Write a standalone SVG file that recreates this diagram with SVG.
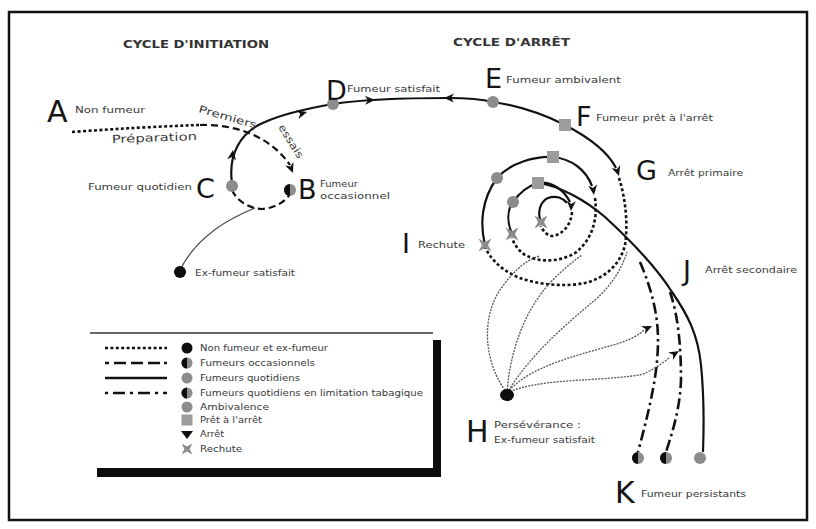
<svg xmlns="http://www.w3.org/2000/svg" width="816" height="529" viewBox="0 0 816 529">
<style>
.big{font-family:"DejaVu Sans",sans-serif;font-size:27px;fill:#151515}
.lab{font-family:"DejaVu Sans",sans-serif;font-size:9px;fill:#3a3a3a}
.ttl{font-family:"DejaVu Sans",sans-serif;font-size:11px;font-weight:bold;fill:#333}
.sol{fill:none;stroke:#111;stroke-width:2.2}
.dot{fill:none;stroke:#111;stroke-width:2.6;stroke-dasharray:3 2.4}
.dsh{fill:none;stroke:#111;stroke-width:2.2;stroke-dasharray:7 4}
.dd{fill:none;stroke:#111;stroke-width:2.6;stroke-dasharray:11 4 2.5 4}
.thin{fill:none;stroke:#555;stroke-width:1.3;stroke-dasharray:2 1.2}
.gray{fill:#8c8c8c}
.lgray{fill:#9c9c9c}
.blk{fill:#0d0d0d}
</style>
<defs>
<path id="ah" d="M0,0 L-10,-4.5 L-7,0 L-10,4.5 Z" fill="#111"/>
<path id="xm" d="M-6.5,-6.5 L0,-3 L6.5,-6.5 L3,0 L6.5,6.5 L0,3 L-6.5,6.5 L-3,0 Z" fill="#8c8c8c"/>
<g id="half"><circle r="6" fill="#8c8c8c"/><path d="M0,-6 A6,6 0 0 0 0,6 Z" fill="#0d0d0d"/></g>
</defs>
<rect x="9" y="12" width="798" height="508" fill="#fff" stroke="#111" stroke-width="2.5"/>

<g id="titles">
<text class="ttl" x="123" y="48" textLength="146" lengthAdjust="spacingAndGlyphs">CYCLE D'INITIATION</text>
<text class="ttl" x="453" y="46" textLength="117" lengthAdjust="spacingAndGlyphs">CYCLE D'ARRÊT</text>
</g>

<g id="connectors">
<path class="dot" d="M72,132 Q140,127 200,125"/>
<path class="dsh" d="M200,125 C235,124 270,136 290,165"/>
<path class="sol" d="M232,183 C228,155 240,132 265,122 C285,113 310,108 333,104 C360,100 400,98 448,98 C470,98 485,100 493,102 C520,106 545,115 565,125 C590,138 608,152 616,168"/>
<path class="dsh" d="M232,190 C238,203 252,209 262,209 C275,208 285,202 290,194"/>
<path fill="none" stroke="#444" stroke-width="1.2" d="M255,208 C225,220 195,240 180,270"/>
<path class="dot" d="M619,178 C626,200 628,225 625,245 C620,265 605,278 585,283 C565,287 540,285 520,278 C505,272 492,262 485,247"/>
<path class="sol" d="M485,245 C480,225 481,200 497,178 C510,163 535,156 553,157 C572,159 586,170 592,186"/>
<path class="dot" d="M595,198 C598,220 592,240 575,253 C560,262 540,263 525,255 C518,250 514,244 512,238"/>
<path class="sol" d="M512,234 C507,222 507,210 513,202 C520,192 528,186 538,183 C552,181 564,190 570,202"/>
<path class="dot" d="M572,212 C571,225 563,234 553,236 C547,236 543,231 541,226"/>
<path class="sol" d="M541,222 C537,212 540,202 548,198 C556,195 563,198 567,203"/>
<path class="sol" d="M538,183 C560,186 585,200 605,217 C630,240 655,265 672,292 C688,315 698,335 701,365 C704,395 704,425 703,452"/>
<path class="dd" d="M640,262 C652,290 658,315 658,340 C658,370 652,400 638,452"/>
<path class="dd" d="M670,292 C678,315 681,345 681,380 C680,405 675,425 666,452"/>
<path class="thin" d="M507,393 C485,365 480,320 500,290 C515,268 530,258 540,256"/>
<path class="thin" d="M507,393 C510,350 525,310 550,283 C560,272 572,262 582,255"/>
<path class="thin" d="M507,393 C530,355 565,325 595,300 C612,285 622,268 627,252"/>
<path class="thin" d="M507,393 C530,365 580,355 620,343 C632,339 640,334 644,330"/>
<path class="thin" d="M507,393 C540,378 590,382 640,375 C652,371 663,363 670,357"/>
<use href="#ah" transform="translate(293,173) rotate(68)"/>
<use href="#ah" transform="translate(233,150) rotate(-82)"/>
<use href="#ah" transform="translate(307,112) rotate(-15)"/>
<use href="#ah" transform="translate(375,100) rotate(-2)"/>
<use href="#ah" transform="translate(444,98) rotate(180)"/>
<use href="#ah" transform="translate(619,176) rotate(72)"/>
<use href="#ah" transform="translate(594,195) rotate(82)"/>
<use href="#ah" transform="translate(571,211) rotate(92)"/>
<use href="#ah" transform="translate(652,326) rotate(-25)"/>
<use href="#ah" transform="translate(679,351) rotate(-32)"/>
</g>

<g id="A"><text class="big" x="47" y="122" style="font-size:30px">A</text><text class="lab" x="75" y="113" textLength="70" lengthAdjust="spacingAndGlyphs">Non fumeur</text></g>
<g id="init-labels">
<text class="lab" x="112" y="143" textLength="85" lengthAdjust="spacingAndGlyphs" style="font-size:11px" transform="rotate(-2 112 143)">Préparation</text>
<text class="lab" x="198" y="112" textLength="60" lengthAdjust="spacingAndGlyphs" style="font-size:10px" transform="rotate(16 198 112)">Premiers</text>
<text class="lab" x="278" y="127" textLength="38" lengthAdjust="spacingAndGlyphs" style="font-size:10px" transform="rotate(58 278 127)">essais</text>
</g>
<g id="B"><use href="#half" transform="translate(290,190)"/><text class="big" x="298" y="199">B</text><text class="lab" x="320" y="187" textLength="38" lengthAdjust="spacingAndGlyphs">Fumeur</text><text class="lab" x="320" y="199" textLength="70" lengthAdjust="spacingAndGlyphs">occasionnel</text></g>
<g id="C"><circle class="gray" cx="232" cy="186" r="6"/><text class="big" x="196" y="198">C</text><text class="lab" x="88" y="190" textLength="104" lengthAdjust="spacingAndGlyphs">Fumeur quotidien</text></g>
<g id="exfumeur1"><circle class="blk" cx="180" cy="272" r="6"/><text class="lab" x="195" y="276" textLength="100" lengthAdjust="spacingAndGlyphs">Ex-fumeur satisfait</text></g>
<g id="D"><circle class="gray" cx="333" cy="104" r="6"/><text class="big" x="326" y="100">D</text><text class="lab" x="347" y="92" textLength="93" lengthAdjust="spacingAndGlyphs">Fumeur satisfait</text></g>
<g id="E"><circle class="gray" cx="493" cy="102" r="6"/><text class="big" x="485" y="88">E</text><text class="lab" x="506" y="83" textLength="115" lengthAdjust="spacingAndGlyphs">Fumeur ambivalent</text></g>
<g id="F"><rect class="lgray" x="559" y="119" width="12" height="12"/><text class="big" x="576" y="126">F</text><text class="lab" x="596" y="121" textLength="117" lengthAdjust="spacingAndGlyphs">Fumeur prêt à l'arrêt</text></g>
<g id="G"><text class="big" x="636" y="180">G</text><text class="lab" x="668" y="176" textLength="75" lengthAdjust="spacingAndGlyphs">Arrêt primaire</text></g>
<g id="spiral-markers">
<circle class="gray" cx="497" cy="178" r="6"/>
<rect class="lgray" x="547" y="151" width="12" height="12"/>
<circle class="gray" cx="513" cy="202" r="6"/>
<rect class="lgray" x="532" y="177" width="12" height="12"/>
<use href="#xm" transform="translate(512,234)"/>
<use href="#xm" transform="translate(541,222)"/>
</g>
<g id="I"><use href="#xm" transform="translate(485,245)"/><text class="big" x="402" y="253">I</text><text class="lab" x="418" y="248" textLength="47" lengthAdjust="spacingAndGlyphs">Rechute</text></g>
<g id="J"><text class="big" x="683" y="280">J</text><text class="lab" x="705" y="273" textLength="92" lengthAdjust="spacingAndGlyphs">Arrêt secondaire</text></g>
<g id="H"><ellipse class="blk" cx="507" cy="395" rx="7" ry="6"/><text class="big" x="466" y="442" style="font-size:30px">H</text><text class="lab" x="494" y="428" textLength="87" lengthAdjust="spacingAndGlyphs">Persévérance :</text><text class="lab" x="494" y="443" textLength="101" lengthAdjust="spacingAndGlyphs">Ex-fumeur satisfait</text></g>
<g id="K"><use href="#half" transform="translate(638,458)"/><use href="#half" transform="translate(666,458)"/><circle class="gray" cx="700" cy="458" r="6"/><text class="big" x="615" y="503" style="font-size:30px">K</text><text class="lab" x="641" y="497" textLength="105" lengthAdjust="spacingAndGlyphs">Fumeur persistants</text></g>

<g id="legend">
<rect x="97" y="340" width="344" height="137" fill="#0d0d0d"/>
<rect x="90" y="333" width="343" height="135" fill="#fff"/>
<line x1="90" y1="333" x2="433" y2="333" stroke="#666" stroke-width="1.8"/>
<path class="dot" d="M105,348 H167"/>
<path fill="none" stroke="#111" stroke-width="2.6" stroke-dasharray="4 5 12 5 12 5 12" d="M105,363 H167"/>
<path class="sol" d="M105,378 H167" style="stroke-width:2.6"/>
<path fill="none" stroke="#111" stroke-width="2.6" stroke-dasharray="3 5 12 5" d="M105,393 H167"/>
<circle class="blk" cx="187" cy="348" r="5.5"/>
<use href="#half" transform="translate(187,363) scale(0.92)"/>
<circle class="gray" cx="187" cy="378" r="5.5"/>
<use href="#half" transform="translate(187,393) scale(0.92)"/>
<circle class="gray" cx="187" cy="407" r="5.5"/>
<rect class="lgray" x="181.5" y="414.5" width="11" height="11"/>
<path d="M181,431 H193 L187,439 Z" fill="#0d0d0d"/>
<use href="#xm" transform="translate(187,449) scale(0.85)"/>
<text class="lab" x="200" y="351" textLength="128" lengthAdjust="spacingAndGlyphs">Non fumeur et ex-fumeur</text>
<text class="lab" x="200" y="366" textLength="115" lengthAdjust="spacingAndGlyphs">Fumeurs occasionnels</text>
<text class="lab" x="200" y="381" textLength="100" lengthAdjust="spacingAndGlyphs">Fumeurs quotidiens</text>
<text class="lab" x="200" y="396" textLength="223" lengthAdjust="spacingAndGlyphs">Fumeurs quotidiens en limitation tabagique</text>
<text class="lab" x="200" y="410" textLength="69" lengthAdjust="spacingAndGlyphs">Ambivalence</text>
<text class="lab" x="200" y="423" textLength="62" lengthAdjust="spacingAndGlyphs">Prêt à l'arrêt</text>
<text class="lab" x="200" y="437" textLength="24" lengthAdjust="spacingAndGlyphs">Arrêt</text>
<text class="lab" x="200" y="452" textLength="42" lengthAdjust="spacingAndGlyphs">Rechute</text>
</g>
</svg>
